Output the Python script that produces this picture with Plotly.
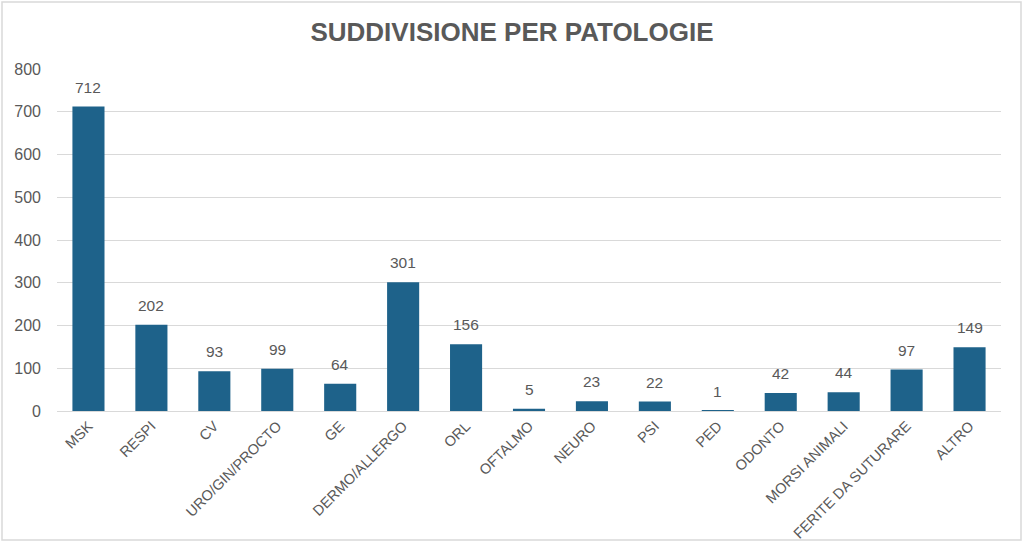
import plotly.graph_objects as go

# dati
categorie = ["MSK", "RESPI", "CV", "URO/GIN/PROCTO", "GE", "DERMO/ALLERGO", "ORL",
             "OFTALMO", "NEURO", "PSI", "PED", "ODONTO", "MORSI ANIMALI",
             "FERITE DA SUTURARE", "ALTRO"]
casi = [712, 202, 93, 99, 64, 301, 156, 5, 23, 22, 1, 42, 44, 97, 149]

GRIGIO = "#595959"
FONT = "Liberation Sans"

fig = go.Figure()

fig.add_trace(go.Bar(
    x=categorie,
    y=casi,
    marker=dict(color="#1e628a", line=dict(width=0)),
    hoverinfo="x+y",
))

# etichette dei valori sopra le barre
for c, v in zip(categorie, casi):
    fig.add_annotation(
        x=c, y=v, text=str(v), showarrow=False,
        yanchor="bottom", yshift=9,
        font=dict(size=15.5, color=GRIGIO, family=FONT),
    )

W, H = 1024, 543
ml, mr, mt, mb = 57, 23, 69, 132
pw, ph = W - ml - mr, H - mt - mb

fig.update_layout(
    width=W, height=H,
    margin=dict(l=ml, r=mr, t=mt, b=mb, autoexpand=False),
    paper_bgcolor="white",
    plot_bgcolor="white",
    showlegend=False,
    bargap=0.49,
    font=dict(family=FONT, color=GRIGIO),
    title=dict(
        text="<b>SUDDIVISIONE PER PATOLOGIE</b>",
        x=0.5, xanchor="center",
        y=1 - 32 / H, yanchor="middle",
        font=dict(size=26, color=GRIGIO, family=FONT),
        automargin=False,
    ),
    xaxis=dict(
        automargin=False,
        tickangle=-45,
        tickfont=dict(size=14.5, color=GRIGIO),
        showgrid=False,
        showline=True, linecolor="#d9d9d9", linewidth=1,
        ticks="",
    ),
    yaxis=dict(
        automargin=False,
        range=[0, 800],
        dtick=100,
        tickfont=dict(size=16, color=GRIGIO),
        showgrid=True, gridcolor="#d9d9d9", gridwidth=1,
        zeroline=False,
        ticks="", ticklabelstandoff=15,
    ),
    shapes=[dict(
        type="rect", xref="paper", yref="paper",
        x0=(2 - ml) / pw, x1=(1021 - ml) / pw,
        y0=-(mb - 3) / ph, y1=1 + (mt - 2) / ph,
        line=dict(color="#d9d9d9", width=1.5),
        layer="below",
    )],
)

# niente margine del body, così il grafico parte dall'angolo della pagina
fig.write_html("out.html", config={"displayModeBar": False},
               post_script="document.body.style.margin='0';")
